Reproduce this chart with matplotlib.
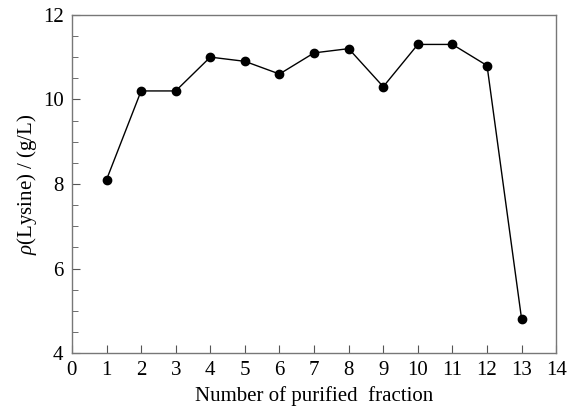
import matplotlib
matplotlib.use("Agg")
import matplotlib.pyplot as plt
from matplotlib.ticker import MultipleLocator

# datos
fraccion = [1, 2, 3, 4, 5, 6, 7, 8, 9, 10, 11, 12, 13]
lisina = [8.1, 10.2, 10.2, 11.0, 10.9, 10.6, 11.1, 11.2, 10.3, 11.3, 11.3, 10.8, 4.8]

plt.rcParams['font.family'] = ['Liberation Serif', 'DejaVu Serif']
plt.rcParams['mathtext.fontset'] = 'custom'
plt.rcParams['mathtext.it'] = 'Liberation Serif:italic'
plt.rcParams['mathtext.rm'] = 'Liberation Serif'

fig = plt.figure(figsize=(5.8, 4.12), dpi=100)
ax = fig.add_axes([0.124, 0.143, 0.835, 0.821])

ax.plot(fraccion, lisina, color='black', linewidth=1.0, marker='o', markersize=6)

ax.set_xlim(0, 14)
ax.set_ylim(4, 12)
ax.xaxis.set_major_locator(MultipleLocator(1))
ax.yaxis.set_major_locator(MultipleLocator(2))
ax.yaxis.set_minor_locator(MultipleLocator(0.5))
ax.tick_params(which='both', direction='in', top=False, right=False,
               labelsize=15, color='#555555')
ax.tick_params(which='major', length=6, pad=6)
ax.tick_params(which='minor', length=4)
for s in ax.spines.values():
    s.set_color('#777777')
    s.set_linewidth(1.0)

ax.set_xlabel('Number of purified  fraction', fontsize=15, labelpad=4)
ax.set_ylabel(r'$\rho$(Lysine) / (g/L)', fontsize=15, labelpad=3)

fig.savefig('out.png', dpi=100)
